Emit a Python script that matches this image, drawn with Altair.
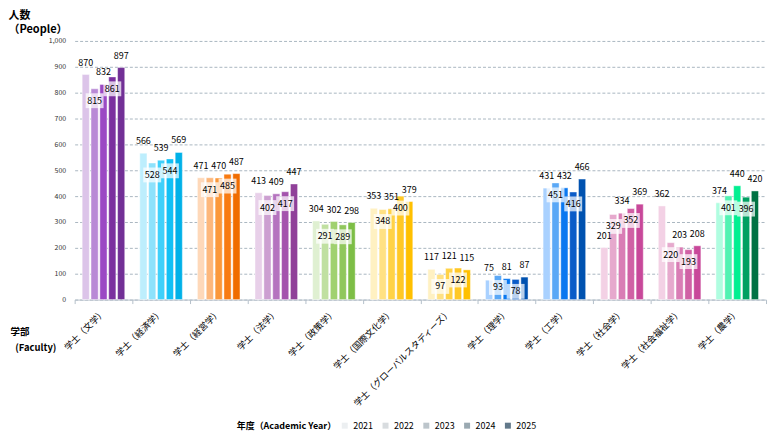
import altair as alt
import pandas as pd

faculties = ["学士（文学）", "学士（経済学）", "学士（経営学）", "学士（法学）", "学士（政策学）",
             "学士（国際文化学）", "学士（グローバルスタディーズ）", "学士（理学）", "学士（工学）",
             "学士（社会学）", "学士（社会福祉学）", "学士（農学）"]
years = ["2021", "2022", "2023", "2024", "2025"]
v2021 = [870, 566, 471, 413, 304, 353, 117, 75, 431, 201, 362, 374]
v2022 = [815, 528, 471, 402, 291, 348, 97, 93, 451, 329, 220, 401]
v2023 = [832, 539, 470, 409, 302, 351, 121, 81, 432, 334, 203, 440]
v2024 = [861, 544, 485, 417, 289, 400, 122, 78, 416, 352, 193, 396]
v2025 = [897, 569, 487, 447, 298, 379, 115, 87, 466, 369, 208, 420]
series = [v2021, v2022, v2023, v2024, v2025]

purple = ["#dcc4e9", "#b98ad6", "#9b49c4", "#7b309f", "#723096"]
cyan = ["#bdeefd", "#8de2fc", "#3fd0fa", "#12c0f5", "#00b1e8"]
orange = ["#fed8b9", "#fdb77b", "#fb983a", "#f87b12", "#f06c00"]
mauve = ["#e8d0e9", "#cc9fd1", "#b573bf", "#a453ad", "#904099"]
green = ["#dff0d1", "#c0e0a1", "#a0d170", "#90c75c", "#7dbe46"]
yellow = ["#fff1c2", "#ffe183", "#ffd246", "#ffc826", "#ffc000"]
blue = ["#a9d1ff", "#5aa8f6", "#0a78f0", "#0a5bc8", "#0052b0"]
pink = ["#f3d1e5", "#e6a9cd", "#d97db5", "#d061a5", "#c8489a"]
mint = ["#b0fde0", "#52f2b2", "#02ef91", "#01a062", "#007244"]
palettes = [purple, cyan, orange, mauve, green, yellow, yellow, blue, blue, pink, pink, mint]
legend_grays = ["#eceff1", "#d8dcdf", "#bcc5cb", "#9aa9b1", "#62798a"]

rows = []
keys, colors = [], []
for i, fac in enumerate(faculties):
    for j, yr in enumerate(years):
        k = f"{fac}|{yr}"
        rows.append({"faculty": fac, "year": yr, "value": series[j][i], "key": k})
        keys.append(k)
        colors.append(palettes[i][j])
df = pd.DataFrame(rows)
legend_df = pd.DataFrame({"faculty": [faculties[0]] * 5, "year": years, "value": [0] * 5})

FONT = "Noto Sans CJK JP"

x_enc = alt.X("faculty:N", sort=faculties,
              scale=alt.Scale(paddingInner=0, paddingOuter=0),
              axis=alt.Axis(title=["学部", "\u200b\u2002(Faculty)"], labelAngle=-45,
                            labelAlign="right", labelBaseline="middle",
                            labelFontSize=9, labelColor="#000", labelLimit=300, labelPadding=7,
                            tickBand="extent", tickSize=4, tickColor="#b4c0ca",
                            domainColor="#b4c0ca", grid=False,
                            titleAngle=0, titleAlign="left", titleBaseline="top",
                            titleX=-65, titleY=27, titleFontSize=9.5, titleFontWeight="bold",
                            titleLineHeight=16, titleColor="#000"))
xo_enc = alt.XOffset("year:N", sort=years, scale=alt.Scale(paddingInner=0.19, paddingOuter=0.85))
y_enc = alt.Y("value:Q", scale=alt.Scale(domain=[0, 1000], nice=False),
              axis=alt.Axis(title=["人数", "（People）"], values=list(range(0, 1001, 100)),
                            format=",d", labelFontSize=7, labelColor="#333", labelPadding=9,
                            labelOverlap=False,
                            domain=False, ticks=False, gridDash=[3, 2], gridColor="#a9b6c1",
                            titleAngle=0, titleAlign="left", titleBaseline="top",
                            titleX=-67, titleY=-32, titleFontSize=11, titleFontWeight="bold",
                            titleLineHeight=15, titleColor="#000"))

base = alt.Chart(df).encode(x=x_enc, xOffset=xo_enc, y=y_enc)

legend_layer = alt.Chart(legend_df).mark_square(size=1, opacity=1).encode(
    x=x_enc,
    xOffset=xo_enc,
    y=y_enc,
    color=alt.Color("year:N", sort=years,
                    scale=alt.Scale(domain=years, range=legend_grays),
                    legend=alt.Legend(title="年度（Academic Year）", orient="none",
                                      legendX=163, legendY=382, direction="horizontal",
                                      titleOrient="left", titleFontSize=9, titleFontWeight="bold",
                                      titleColor="#000", titlePadding=4,
                                      labelFontSize=9, labelColor="#000",
                                      symbolType="square", symbolSize=36, symbolStrokeWidth=0,
                                      columnPadding=8, labelOffset=4)),
)

bars = base.mark_bar(stroke="white", strokeWidth=0.8, strokeOpacity=0.55).encode(
    color=alt.Color("key:N", scale=alt.Scale(domain=keys, range=colors), legend=None)
)

above = base.transform_filter(
    alt.FieldOneOfPredicate(field="year", oneOf=["2021", "2023", "2025"])
).mark_text(baseline="middle", dy=-12, fontSize=9, color="#000").encode(text="value:Q")

inside_f = alt.FieldOneOfPredicate(field="year", oneOf=["2022", "2024"])
boxes = base.transform_filter(inside_f).mark_point(
    shape="M-1,-0.83L1,-0.83L1,0.83L-1,0.83Z", filled=True, color="white",
    opacity=0.72, size=324, yOffset=12, strokeWidth=0)
inside = base.transform_filter(inside_f).mark_text(
    baseline="middle", dy=12, fontSize=9, color="#000").encode(text="value:Q")

chart = alt.layer(legend_layer, bars, boxes, above, inside).resolve_scale(
    color="independent"
).properties(
    width=695, height=260, padding={"left": 0, "top": 0, "right": 5, "bottom": 0}
).configure(font=FONT).configure_view(stroke=None)

chart.save("out.html", embed_options={"renderer": "svg", "actions": False})
